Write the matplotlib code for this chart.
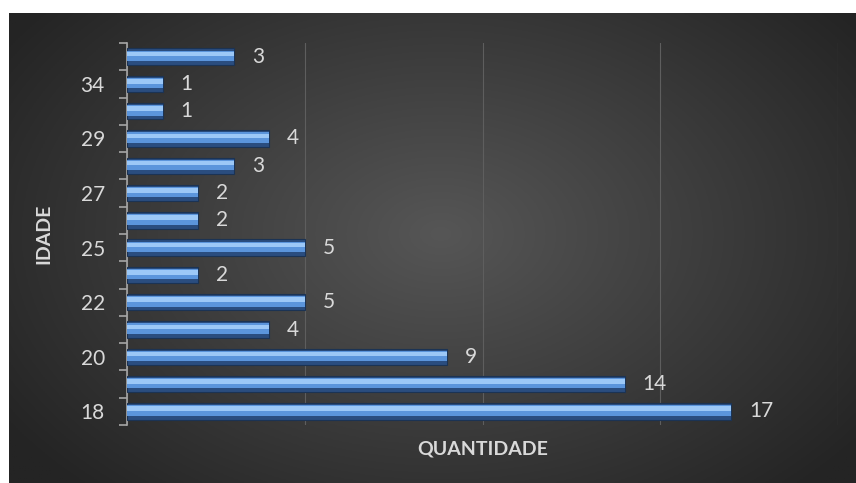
import numpy as np
import matplotlib.pyplot as plt

# ages (categories, bottom to top) and counts
idades = ["18", "19", "20", "21", "22", "24", "25", "26", "27", "28", "29", "31", "34", "36"]
quantidades = [17, 14, 9, 4, 5, 2, 5, 2, 2, 3, 4, 1, 1, 3]
rotulos_visiveis = ["18", "20", "22", "25", "27", "29", "34"]

plt.rcParams["font.family"] = ["Lato", "DejaVu Sans"]
txt_color = "#d9d9d9"

fig = plt.figure(figsize=(8.56, 4.83), dpi=100)
fig.patch.set_facecolor("white")

# radial gradient background panel
bg = fig.add_axes([9 / 856, 0, 1 - 9 / 856, 1 - 13 / 483])
gx, gy = np.meshgrid(np.linspace(0, 1, 400), np.linspace(0, 1, 240))
r = np.sqrt(((gx - 0.51) / 0.62) ** 2 + ((gy - 0.47) / 0.75) ** 2)
r = np.clip(r, 0, 1)
inner, outer = np.array([0x56, 0x56, 0x56]), np.array([0x24, 0x24, 0x24])
img = inner[None, None, :] * (1 - r[..., None]) + outer[None, None, :] * r[..., None]
bg.imshow(img / 255, aspect="auto", extent=[0, 1, 0, 1], origin="upper")
bg.axis("off")

ax = fig.add_axes([127 / 856, 1 - 425 / 483, 711 / 856, (425 - 43) / 483])
ax.patch.set_alpha(0)

y = np.arange(len(idades))
h = 0.6
# bevel-like bar: dark outline, body, bright top band
ax.barh(y, quantidades, height=h, color="#2a4d7f", edgecolor="#1b3354", linewidth=0.8, zorder=3)
ax.barh(y + h * 0.05, quantidades, height=h * 0.64, color="#5b95dc", linewidth=0, zorder=4)
ax.barh(y + h * 0.16, quantidades, height=h * 0.28, color="#9cc8f7", linewidth=0, zorder=5)

for yi, v in zip(y, quantidades):
    ax.annotate(str(v), (v, yi), xytext=(13, 0), textcoords="offset points",
                va="center", ha="left", color=txt_color, fontsize=15)

ax.set_xlim(0, 20)
ax.set_ylim(-0.5, len(idades) - 0.5)
ax.set_xticks([0, 5, 10, 15, 20])
ax.set_xticklabels([])
ax.tick_params(axis="x", length=0)
ax.grid(axis="x", color="#5e5e5e", linewidth=0.8, zorder=0)

ax.set_yticks(y)
ax.set_yticklabels([s if s in rotulos_visiveis else "" for s in idades])
ax.tick_params(axis="y", which="major", length=0, pad=16, labelcolor=txt_color, labelsize=15)
ax.set_yticks(np.arange(-0.5, len(idades), 1), minor=True)
ax.tick_params(axis="y", which="minor", length=6, width=1.2, color="#a6a6a6")

for s in ["top", "right", "bottom"]:
    ax.spines[s].set_visible(False)
ax.spines["left"].set_color("#a6a6a6")
ax.spines["left"].set_linewidth(1.2)

ax.set_xlabel("QUANTIDADE", color=txt_color, fontsize=14, fontweight="bold", labelpad=8)
ax.set_ylabel("IDADE", color=txt_color, fontsize=14, fontweight="bold", labelpad=20)

fig.savefig("out.png", dpi=100)
